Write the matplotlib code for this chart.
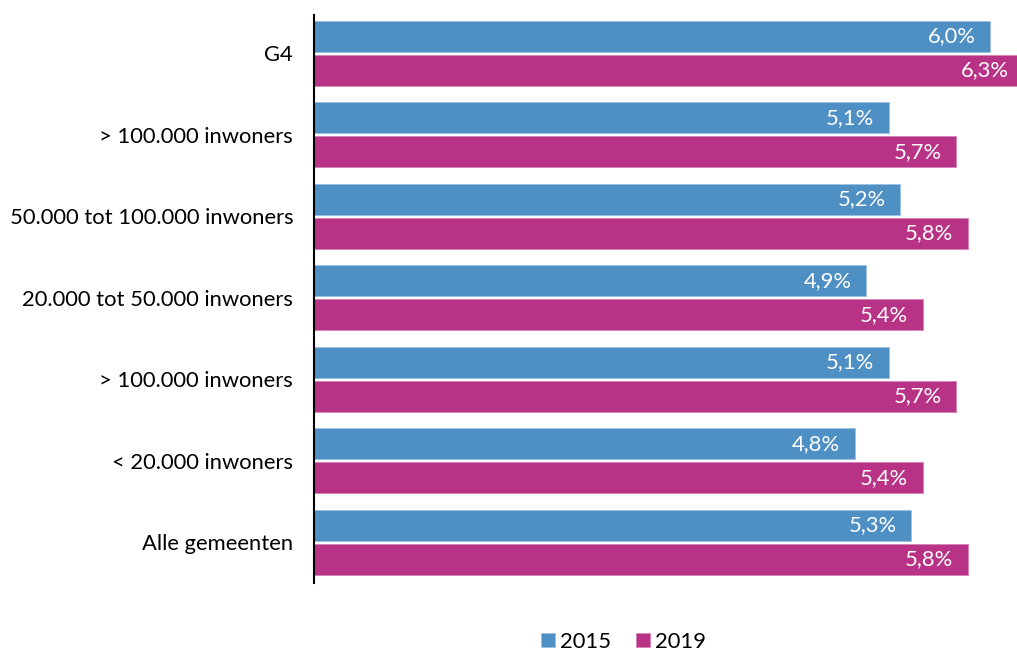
import matplotlib
matplotlib.use("Agg")
import matplotlib.pyplot as plt
import numpy as np

plt.rcParams['font.family'] = ['Lato', 'DejaVu Sans']

categories = ["G4", "> 100.000 inwoners", "50.000 tot 100.000 inwoners",
              "20.000 tot 50.000 inwoners", "> 100.000 inwoners",
              "< 20.000 inwoners", "Alle gemeenten"]
values_2015 = [6.0, 5.1, 5.2, 4.9, 5.1, 4.8, 5.3]
values_2019 = [6.3, 5.7, 5.8, 5.4, 5.7, 5.4, 5.8]
series_labels = ["2015", "2019"]
colors = ["#4E8FC4", "#B83386"]

FS = 15.8

fig = plt.figure(figsize=(10.17, 6.5), dpi=100)
ax = fig.add_axes([0.3088, 0.103, 0.6912, 0.874])

n = len(categories)
pos = np.arange(n)[::-1]
h = 0.38
off = 0.21

b1 = ax.barh(pos + off, values_2015, height=h, color=colors[0],
             edgecolor="#9CC0E0", linewidth=0.6, label=series_labels[0])
b2 = ax.barh(pos - off, values_2019, height=h, color=colors[1],
             edgecolor="#D883B8", linewidth=0.6, label=series_labels[1])

for bars, vals in ((b1, values_2015), (b2, values_2019)):
    for bar, v in zip(bars, vals):
        y = bar.get_y() + bar.get_height() / 2
        ax.text(v - 0.13, y, f"{v:.1f}%".replace(".", ","), color="white",
                ha="right", va="center", fontsize=FS)

ax.set_xlim(0, 6.238)
ax.set_ylim(-0.5, 6.47)
ax.set_yticks(pos)
ax.set_yticklabels(categories, fontsize=FS)
ax.tick_params(axis="y", length=0, pad=15)
ax.set_xticks([])
for s in ("top", "right", "bottom"):
    ax.spines[s].set_visible(False)
ax.spines["left"].set_linewidth(1.5)
ax.spines["left"].set_color("black")

fig.legend(handles=[b1, b2], labels=series_labels, loc="lower center",
           bbox_to_anchor=(0.613, -0.033), ncol=2, frameon=False,
           fontsize=FS, handlelength=0.65, handleheight=0.65,
           handletextpad=0.25, columnspacing=1.1)

fig.savefig("out.png", dpi=100)
